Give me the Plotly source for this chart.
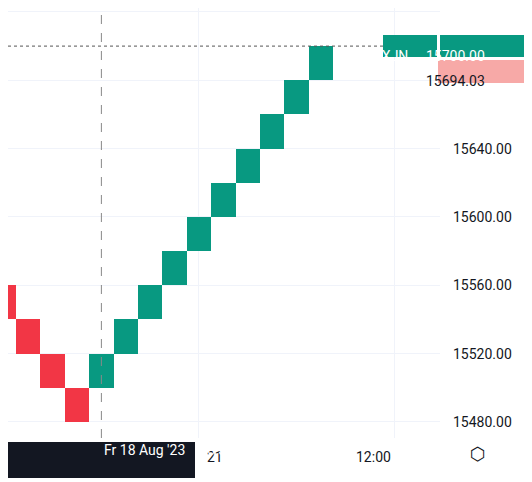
import plotly.graph_objects as go

brick_idx = list(range(0, 15))
brick_low = [15540, 15520, 15500, 15480, 15500, 15520, 15540, 15560, 15580, 15600, 15620, 15640, 15660, 15680]
brick_dir = ["down", "down", "down", "down", "up", "up", "up", "up", "up", "up", "up", "up", "up", "up"]
brick_size = 20
y_ticks = [15480, 15520, 15560, 15600, 15640, 15680, 15720]
y_ticktext = ["15480.00", "15520.00", "15560.00", "15600.00", "15640.00", "", "15720.00"]
last_price = 15700.00
current_price = 15694.03

GREEN = "#089981"; RED = "#F23645"
W, H = 432, 430  # plot area px

fig = go.Figure()
fig.add_trace(go.Bar(
    x=brick_idx[:len(brick_low)], y=[brick_size] * len(brick_low), base=brick_low,
    marker=dict(color=[GREEN if d == "up" else RED for d in brick_dir], line=dict(width=0)),
    width=1.0, hoverinfo="skip"))

fig.add_hline(y=last_price, line=dict(color="#555", width=1, dash="dot"))
fig.add_vline(x=4, line=dict(color="#888", width=1, dash="dash"))

fig.update_layout(
    width=532, height=482, margin=dict(l=0, r=100, t=0, b=52, autoexpand=False),
    plot_bgcolor="white", paper_bgcolor="white", showlegend=False, bargap=0,
    font=dict(family="Roboto, Liberation Sans, sans-serif", size=14, color="#131722"),
    xaxis=dict(range=[0.172, 17.88], showticklabels=False, showgrid=True, gridcolor="#f0f3fa",
               tickvals=[8, 16], zeroline=False, fixedrange=True, automargin=False),
    yaxis=dict(side="right", range=[15470.6, 15722.3], tickvals=y_ticks,
               ticktext=y_ticktext, showgrid=True, gridcolor="#f0f3fa",
               zeroline=False, ticks="", ticklabelstandoff=12, automargin=False),
)

fig.add_annotation(x=197/W, y=0, xref="paper", yref="paper", yshift=-29, text="21", xanchor="left",
                   showarrow=False, font=dict(size=14, color="#131722"))
fig.add_annotation(x=385/W, y=0, xref="paper", yref="paper", yshift=-29, text="12:00",
                   showarrow=False, font=dict(size=14, color="#131722"))
fig.add_shape(type="rect", xref="paper", yref="paper", x0=0, x1=187/W, y0=-40/H, y1=-4/H,
              fillcolor="#131722", line=dict(width=0))
fig.add_annotation(x=94/W, y=-22/H, xref="paper", yref="paper",
                   text="Fr 18 Aug '23&nbsp;&nbsp;&nbsp;&nbsp;16:30", showarrow=False,
                   font=dict(size=14, color="white"))

py = lambda p: (p - 15470.6) / (15722.3 - 15470.6)
fig.add_shape(type="rect", xref="paper", yref="paper", x0=375/W, x1=429/W,
              y0=py(last_price) - 11/H, y1=py(last_price) + 11/H, fillcolor=GREEN, line=dict(width=0))
fig.add_annotation(x=402/W, y=py(last_price), xref="paper", yref="paper", text="3XJN",
                   showarrow=False, font=dict(size=14, color="white"))
fig.add_shape(type="rect", xref="paper", yref="paper", x0=432/W, x1=527/W,
              y0=py(last_price) - 11/H, y1=py(last_price) + 11/H, fillcolor=GREEN, line=dict(width=0))
fig.add_annotation(x=479/W, y=py(last_price), xref="paper", yref="paper", text=f"{last_price:.2f}",
                   showarrow=False, font=dict(size=14, color="white"))
fig.add_shape(type="rect", xref="paper", yref="paper", x0=430/W, x1=527/W,
              y0=(H - 75) / H, y1=(H - 52) / H, fillcolor="#F7A9A7", line=dict(width=0))
fig.add_annotation(x=479/W, y=(H - 63.5) / H, xref="paper", yref="paper",
                   text=f"{current_price:.2f}", showarrow=False, font=dict(size=14, color="#131722"))
fig.add_annotation(x=480/W, y=-28/H, xref="paper", yref="paper", text="⬡",
                   showarrow=False, font=dict(size=18, color="#131722", family="DejaVu Sans"))

fig.write_html("out.html")
